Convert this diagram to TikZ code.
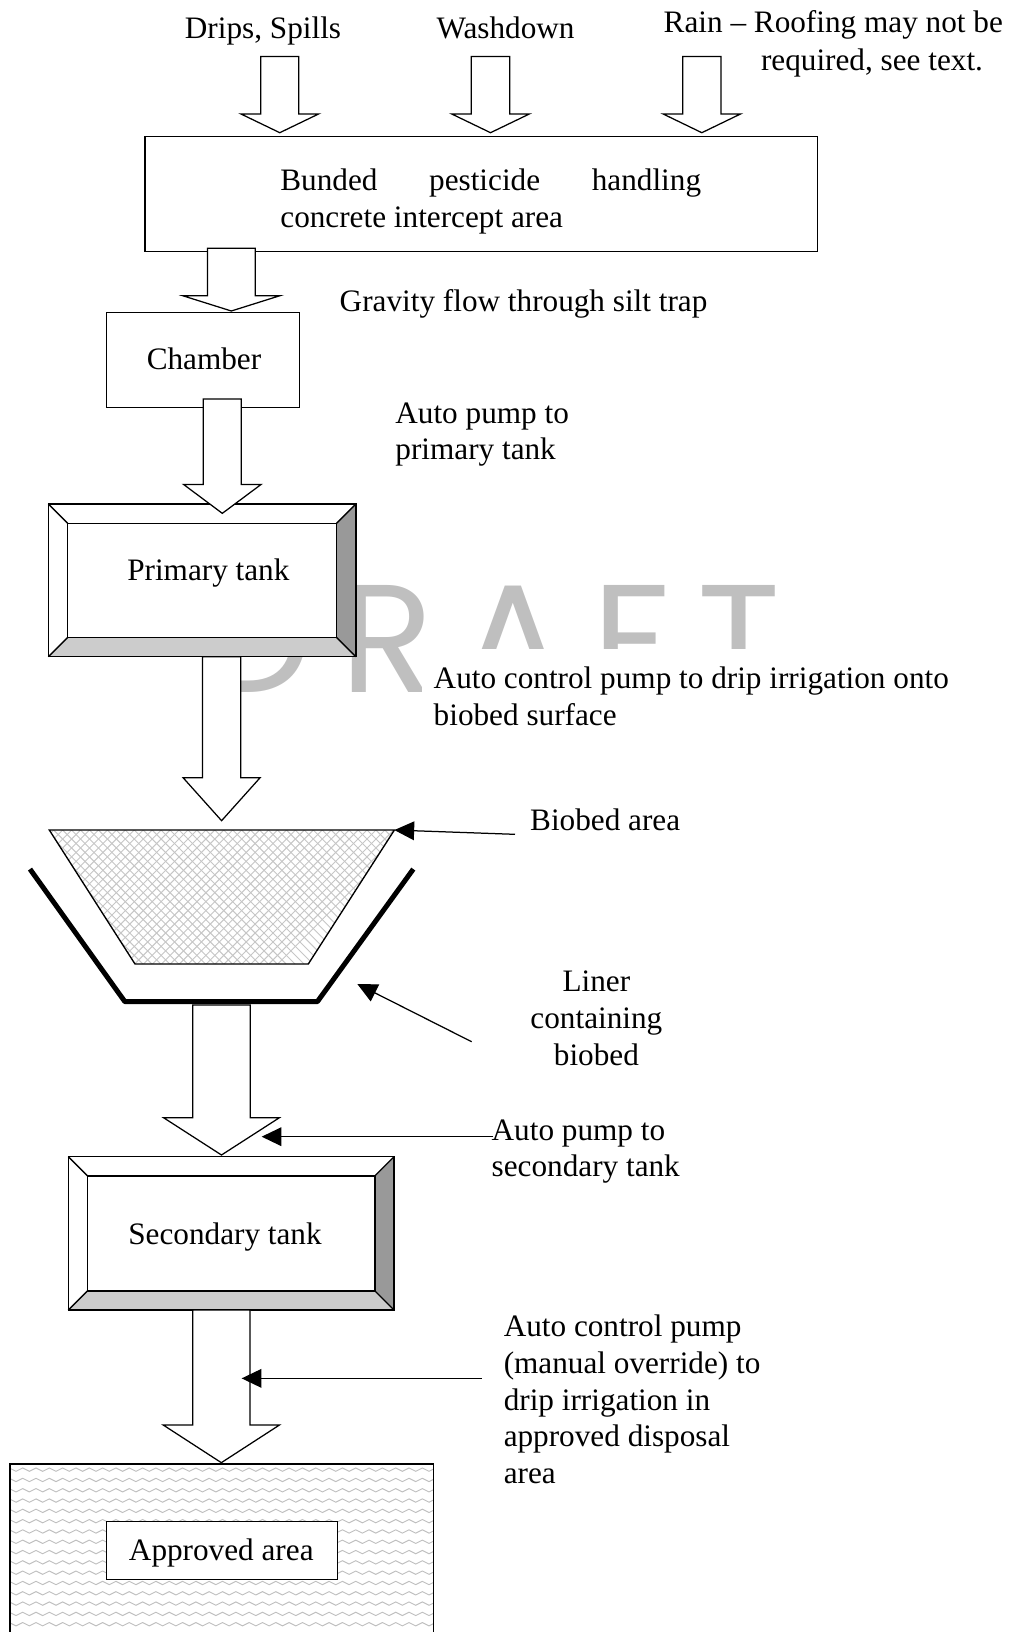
\documentclass[tikz,border=0pt]{standalone}
\usepackage{fontspec}
\setmainfont{Liberation Serif}
\newfontfamily\wmfont{Poppins}[LetterSpace=18]
\usetikzlibrary{arrows.meta,decorations.pathmorphing}
\newcommand{\blockarr}[6]{%
  \draw[blockarrow] ({#1-#2},#4) -- ({#1+#2},#4) -- ({#1+#2},#5) -- ({#1+#3},#5)
    -- (#1,#6) -- ({#1-#3},#5) -- ({#1-#2},#5) -- cycle;}
\newcommand{\tankbox}[5]{%
  \fill[white] (#1,#2) rectangle (#3,#4);
  \fill[black!40] (#3,#2) -- (#3,#4) -- ({#3-#5},{#4-#5}) -- ({#3-#5},{#2+#5}) -- cycle;
  \fill[black!20] (#1,#4) -- (#3,#4) -- ({#3-#5},{#4-#5}) -- ({#1+#5},{#4-#5}) -- cycle;
  \draw[boxline] (#1,#2) rectangle (#3,#4);
  \draw[boxline] ({#1+#5},{#2+#5}) rectangle ({#3-#5},{#4-#5});
  \draw[boxline] (#1,#2) -- ({#1+#5},{#2+#5}) (#3,#2) -- ({#3-#5},{#2+#5})
                 (#1,#4) -- ({#1+#5},{#4-#5}) (#3,#4) -- ({#3-#5},{#4-#5});}
\tikzset{
  lbl/.style={font=\fontsize{15pt}{17.65pt}\selectfont, inner sep=0pt},
  blockarrow/.style={draw, fill=white, line width=0.6pt, line join=miter},
  boxline/.style={draw, line width=0.65pt},
  ptr/.style={line width=0.6pt, -{Triangle[length=9.5pt,width=9pt]}},
}
\begin{document}
\begin{tikzpicture}[x=0.5pt,y=-0.5pt]
\useasboundingbox (0,0) rectangle (980,1568);
% watermark
\node[anchor=base, text=black!25, font=\wmfont\fontsize{73.8pt}{80pt}\selectfont, inner sep=0pt] (wm) at (473,665) {DRAFT};
\fill[white] (405,624) rectangle (935,712);

% top labels
\node[lbl, anchor=base] (drips) at (252.7,36.8) {Drips, Spills};
\node[lbl, anchor=base] (wash) at (485.7,36.8) {Washdown};
\node[lbl, anchor=base west] (rain1) at (637.3,31.1) {Rain -- Roofing may not be};
\node[lbl, anchor=base east] (rain2) at (944.8,67.3) {required, see text.};

% top arrows
\blockarr{268.8}{18.2}{37.3}{54.4}{109.5}{127.5}
\blockarr{471.3}{18.5}{37.3}{54.4}{109.5}{127.5}
\blockarr{674.3}{18.3}{37.2}{54.4}{109.5}{127.5}

% bunded area
\node[boxline, minimum width=323pt, minimum height=55.25pt, anchor=north west, inner sep=0pt] (bund) at (138.7,130.7) {};
\node[lbl, anchor=base west] (bundt1) at (269,183.2) {\makebox[202.1pt][s]{Bunded pesticide handling}};
\node[lbl, anchor=base west] (bundt2) at (269,218.7) {concrete intercept area};

% chamber
\node[boxline, minimum width=92.75pt, minimum height=45.6pt, anchor=north west, inner sep=0pt] (chamber) at (101.8,299.5) {};
\node[lbl, anchor=base] (chambert) at (196,354.9) {Chamber};
\blockarr{222.25}{23}{46.75}{238.6}{284.1}{298.8}
\node[lbl, anchor=base west] (gravity) at (326,299.5) {Gravity flow through silt trap};

% primary tank
\tankbox{46.4}{484.2}{342}{631}{18.5}
\node[lbl, anchor=base] (primt) at (200.2,558) {Primary tank};
\blockarr{213.6}{18.3}{37.3}{383.4}{465.4}{493.2}
\node[lbl, anchor=base west] (ap1) at (379.5,406.5) {Auto pump to};
\node[lbl, anchor=base west] (ap2) at (379.5,441.8) {primary tank};

% drip irrigation text
\node[lbl, anchor=base west] (acp1) at (416.3,661.4) {Auto control pump to drip irrigation onto};
\node[lbl, anchor=base west] (acp2) at (416.3,696.7) {biobed surface};
\blockarr{212.9}{18.4}{37}{631}{747.2}{788.5}

% biobed
\coordinate (bb1) at (47.4,797.5);
\coordinate (bb2) at (378.9,797.5);
\coordinate (bb3) at (296.2,926.2);
\coordinate (bb4) at (129.7,926.2);
\begin{scope}
\clip (bb1) -- (bb2) -- (bb3) -- (bb4) -- cycle;
\foreach \k in {-18,...,46} {
  \draw[gray!45, line width=0.45pt] ({\k*8.6},797.5) -- ({\k*8.6+128.7},926.2);
  \draw[gray!45, line width=0.45pt] ({\k*8.6},797.5) -- ({\k*8.6-128.7},926.2);
}
\end{scope}
\draw[line width=0.65pt, line join=miter] (bb1) -- (bb2) -- (bb3) -- (bb4) -- cycle;
\node[lbl, anchor=base west] (bbarea) at (509,798) {Biobed area};
\coordinate (bbptr) at (494.8,801.6);
\draw[ptr] (bbptr) -- (bb2);

% liner
\coordinate (ln1) at (28.8,835);
\coordinate (ln2) at (120,962.4);
\coordinate (ln3) at (304.9,962.4);
\coordinate (ln4) at (397.1,835);
\draw[line width=2.4pt, line join=bevel] (ln1) -- (ln2) -- (ln3) -- (ln4);
\node[lbl, anchor=base] (liner1) at (573,952.7) {Liner};
\node[lbl, anchor=base] (liner2) at (573,988) {containing};
\node[lbl, anchor=base] (liner3) at (573,1023.3) {biobed};
\coordinate (lnptrs) at (453.2,1000.9);
\coordinate (lnptre) at (343.3,945.4);
\draw[ptr] (lnptrs) -- (lnptre);

\blockarr{212.8}{27.55}{55.6}{965.6}{1073.9}{1109.7}

% secondary tank
\tankbox{65.6}{1111.3}{378.6}{1258.7}{18.4}
\node[lbl, anchor=base] (sect) at (216.2,1195.3) {Secondary tank};
\node[lbl, anchor=base west] (asp1) at (472,1095.5) {Auto pump to};
\node[lbl, anchor=base west] (asp2) at (472,1130.8) {secondary tank};
\coordinate (aspptr) at (474,1092.1);
\coordinate (aspend) at (251.4,1092.1);
\draw[ptr] (aspptr) -- (aspend);

% approved area
\begin{scope}
\clip (9.6,1406.6) rectangle (416.3,1580);
\foreach \r in {0,...,16} {
  \draw[gray!50, line width=0.45pt, decorate, decoration={snake, amplitude=0.8pt, segment length=6.4pt}]
    (5,{1412+\r*9.9}) -- (425,{1412+\r*9.9});
}
\end{scope}
\draw[line width=0.65pt] (9.6,1580) -- (9.6,1406.6) -- (416.3,1406.6) -- (416.3,1580);
\node[boxline, fill=white, minimum width=110.85pt, minimum height=27.85pt, anchor=north west, inner sep=0pt] (apparea) at (101.8,1461.4) {};
\node[lbl, anchor=base] (appt) at (212.6,1498.9) {Approved area};
\blockarr{212.65}{27.55}{55.7}{1258.7}{1369.2}{1405.3}
\node[lbl, anchor=base west] (dis1) at (483.6,1284.3) {Auto control pump};
\node[lbl, anchor=base west] (dis2) at (483.6,1319.6) {(manual override) to};
\node[lbl, anchor=base west] (dis3) at (483.6,1354.9) {drip irrigation in};
\node[lbl, anchor=base west] (dis4) at (483.6,1390.2) {approved disposal};
\node[lbl, anchor=base west] (dis5) at (483.6,1425.5) {area};
\coordinate (disptr) at (462.8,1324.3);
\coordinate (disend) at (232.2,1324.3);
\draw[ptr] (disptr) -- (disend);
\end{tikzpicture}
\end{document}
